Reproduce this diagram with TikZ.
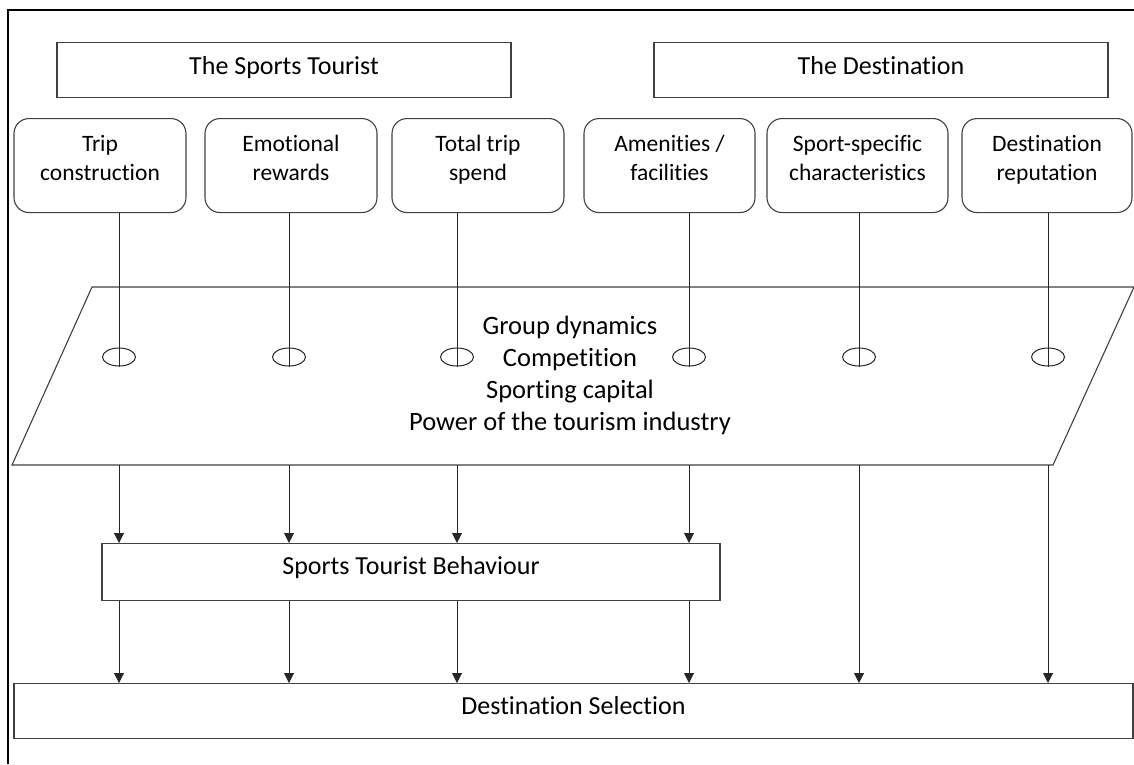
\documentclass[tikz,border=0pt]{standalone}
\usepackage{fontspec}
\setmainfont[Ligatures=NoCommon]{Carlito}
\usepackage{tikz}
\usetikzlibrary{arrows.meta,shapes.geometric,positioning}

\tikzset{
  headbox/.style={draw=black!75, line width=1.1pt, minimum width=454pt,
    inner sep=0pt, text height=32pt, text depth=23pt,
    font=\fontsize{26}{31}\selectfont},
  factor/.style={draw=black!75, line width=1.1pt, rounded corners=15pt,
    anchor=north, align=center, inner sep=0pt, text height=62pt,
    text depth=32pt, font=\fontsize{23.5}{29}\selectfont},
  hub/.style={draw=black!85, line width=1pt, ellipse, inner sep=0pt,
    minimum width=33pt, minimum height=18pt},
  outbox/.style={draw=black!75, line width=1.1pt, inner sep=0pt,
    font=\fontsize{26}{31}\selectfont},
  link/.style={draw=black!85, line width=1pt},
  arr/.style={link, -{Triangle[width=10pt,length=10pt]}}
}

\begin{document}
\begin{tikzpicture}[x=1pt, y=-1pt]
  \useasboundingbox (0,0) rectangle (1134,764);
  % Frame
  \draw[line width=1.1pt] (8,764) -- (8,10) -- (1134,10);
  % Headings
  \node[headbox, anchor=north] (tourist) at (284,42) {The Sports Tourist};
  \node[headbox, anchor=north] (dest) at (881,42) {The Destination};
  % Factors
  \node[factor, minimum width=172pt] (trip) at (100,118) {Trip\\construction};
  \node[factor, minimum width=172pt] (emo) at (291,118) {Emotional\\rewards};
  \node[factor, minimum width=172pt] (spend) at (478,118) {Total trip\\spend};
  \node[factor, minimum width=171pt] (amen) at (669.5,118) {Amenities /\\facilities};
  \node[factor, minimum width=181pt] (sport) at (857.5,118) {Sport-specific\\characteristics};
  \node[factor, minimum width=170pt] (rep) at (1047,118) {Destination\\reputation};
  % Moderating layer
  \draw[line width=1.1pt, draw=black!75] (92,287) -- (1134,287) -- (1053,465)
    -- (12,465) -- cycle;
  \coordinate (pb) at (0,465);
  \node[align=center, font=\fontsize{26.5}{32}\selectfont] (mods) at (570,375)
    {Group dynamics\\Competition\\Sporting capital\\Power of the tourism industry};
  % Hubs on the layer
  \node[hub] (h1) at (119,357) {};
  \node[hub] (h2) at (289,357) {};
  \node[hub] (h3) at (457,357) {};
  \node[hub] (h4) at (689,357) {};
  \node[hub] (h5) at (859,357) {};
  \node[hub] (h6) at (1048,357) {};
  \draw[link] (h1 |- trip.south) -- (h1.south);
  \draw[link] (h2 |- emo.south) -- (h2.south);
  \draw[link] (h3 |- spend.south) -- (h3.south);
  \draw[link] (h4 |- amen.south) -- (h4.south);
  \draw[link] (h5 |- sport.south) -- (h5.south);
  \draw[link] (h6 |- rep.south) -- (h6.south);
  % Outcomes
  \node[outbox, minimum width=618pt, text height=31pt, text depth=26pt,
    anchor=north] (stb) at (411,543) {Sports Tourist Behaviour};
  \node[outbox, minimum width=1119pt, text height=31pt, text depth=24pt,
    anchor=north] (sel) at (573.5,683) {Destination Selection};
  % Arrows
  \draw[arr] (h1 |- pb) -- (h1 |- stb.north);
  \draw[arr] (h2 |- pb) -- (h2 |- stb.north);
  \draw[arr] (h3 |- pb) -- (h3 |- stb.north);
  \draw[arr] (h4 |- pb) -- (h4 |- stb.north);
  \draw[arr] (h1 |- stb.south) -- (h1 |- sel.north);
  \draw[arr] (h2 |- stb.south) -- (h2 |- sel.north);
  \draw[arr] (h3 |- stb.south) -- (h3 |- sel.north);
  \draw[arr] (h4 |- stb.south) -- (h4 |- sel.north);
  \draw[arr] (h5 |- pb) -- (h5 |- sel.north);
  \draw[arr] (h6 |- pb) -- (h6 |- sel.north);
\end{tikzpicture}
\end{document}
